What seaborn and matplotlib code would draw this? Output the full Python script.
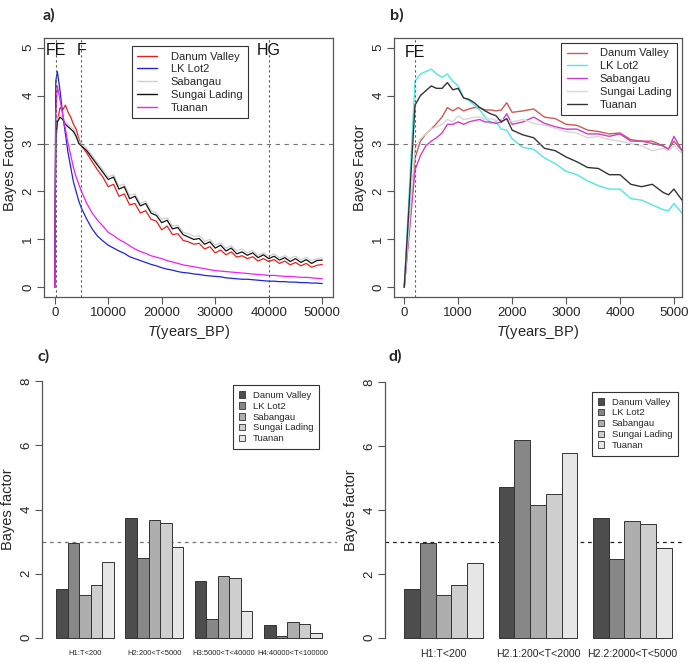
import numpy as np
import pandas as pd
import seaborn as sns
import matplotlib.pyplot as plt
from matplotlib.lines import Line2D
from matplotlib.patches import Patch

sns.set_style("ticks")
plt.rcParams['font.family'] = ['Liberation Sans', 'DejaVu Sans']
plt.rcParams['mathtext.fontset'] = 'custom'
plt.rcParams['mathtext.it'] = 'Liberation Sans:italic'
plt.rcParams['mathtext.rm'] = 'Liberation Sans'

sites = ["Danum Valley", "LK Lot2", "Sabangau", "Sungai Lading", "Tuanan"]

# ---- panel a: Bayes factor vs T, 0-50000 years
t_a = [0, 200, 500, 1000, 1500, 2000, 2500, 3000, 3500, 4000, 4500] + list(range(5000, 50001, 1000))
danum_a = [0, 3.0, 3.45, 3.75, 3.7, 3.8, 3.65, 3.55, 3.4, 3.3, 3.1,
           2.95, 2.8, 2.62, 2.45, 2.3, 2.1, 2.15, 1.9, 1.95, 1.72, 1.75, 1.55, 1.6, 1.42, 1.38,
           1.2, 1.28, 1.1, 1.12, 0.98, 0.95, 0.9, 0.92, 0.8, 0.85, 0.72, 0.78, 0.68, 0.74, 0.63,
           0.66, 0.6, 0.64, 0.55, 0.6, 0.54, 0.58, 0.5, 0.55, 0.47, 0.52, 0.45, 0.5, 0.42, 0.46, 0.48]
lklot2_a = [0, 4.3, 4.5, 4.1, 3.6, 3.2, 2.8, 2.5, 2.2, 2.0, 1.8,
            1.65, 1.42, 1.22, 1.07, 0.97, 0.88, 0.82, 0.76, 0.71, 0.64, 0.6, 0.56, 0.52, 0.48, 0.45,
            0.41, 0.38, 0.36, 0.33, 0.31, 0.3, 0.28, 0.27, 0.25, 0.24, 0.23, 0.22, 0.2, 0.19, 0.18,
            0.17, 0.17, 0.16, 0.15, 0.14, 0.13, 0.13, 0.12, 0.12, 0.11, 0.11, 0.1, 0.1, 0.09, 0.09, 0.08]
sabangau_a = [0, 3.25, 3.5, 3.6, 3.55, 3.45, 3.4, 3.35, 3.3, 3.2, 3.05,
              3.0, 2.9, 2.75, 2.6, 2.45, 2.3, 2.35, 2.12, 2.15, 1.92, 1.95, 1.75, 1.8, 1.6, 1.55,
              1.42, 1.45, 1.28, 1.3, 1.15, 1.12, 1.06, 1.08, 0.96, 1.0, 0.88, 0.93, 0.82, 0.87, 0.76,
              0.8, 0.72, 0.77, 0.67, 0.72, 0.65, 0.7, 0.62, 0.66, 0.6, 0.65, 0.57, 0.63, 0.56, 0.6, 0.62]
sungai_a = [0, 3.2, 3.45, 3.55, 3.5, 3.4, 3.35, 3.3, 3.25, 3.15, 3.0,
            2.95, 2.85, 2.7, 2.55, 2.4, 2.25, 2.3, 2.05, 2.1, 1.85, 1.9, 1.7, 1.75, 1.55, 1.5,
            1.35, 1.4, 1.22, 1.25, 1.1, 1.05, 1.0, 1.02, 0.9, 0.95, 0.82, 0.88, 0.76, 0.82, 0.7,
            0.74, 0.67, 0.72, 0.62, 0.68, 0.6, 0.65, 0.57, 0.62, 0.54, 0.6, 0.52, 0.58, 0.5, 0.56, 0.57]
tuanan_a = [0, 3.6, 4.2, 3.9, 3.6, 3.3, 3.0, 2.75, 2.5, 2.3, 2.15,
            2.0, 1.75, 1.55, 1.4, 1.28, 1.15, 1.08, 1.0, 0.94, 0.87, 0.8, 0.75, 0.71, 0.66, 0.63,
            0.6, 0.56, 0.53, 0.5, 0.47, 0.45, 0.43, 0.41, 0.39, 0.37, 0.35, 0.34, 0.33, 0.32, 0.31,
            0.3, 0.29, 0.28, 0.27, 0.26, 0.25, 0.25, 0.24, 0.23, 0.23, 0.22, 0.21, 0.21, 0.2, 0.19, 0.18]

# ---- panel b: zoom on 0-5000 years
t_b = [0, 200, 300, 400, 500, 600, 700, 800, 900, 1000, 1100, 1200, 1300, 1400, 1500, 1600,
       1700, 1800, 1900, 2000, 2200, 2400, 2600, 2800, 3000, 3200, 3400, 3600, 3800, 4000,
       4200, 4400, 4600, 4800, 4900, 5000, 5150]
danum_b = [0, 2.7, 3.05, 3.2, 3.3, 3.42, 3.55, 3.75, 3.68, 3.75, 3.68, 3.72, 3.75, 3.75, 3.7, 3.7,
           3.68, 3.7, 3.85, 3.65, 3.68, 3.72, 3.55, 3.52, 3.4, 3.38, 3.28, 3.25, 3.2, 3.22,
           3.08, 3.05, 3.05, 2.95, 2.88, 3.05, 2.85]
lklot2_b = [0, 4.3, 4.45, 4.5, 4.55, 4.45, 4.38, 4.45, 4.3, 4.2, 3.95, 3.9, 3.8, 3.7, 3.55, 3.42,
            3.45, 3.3, 3.28, 3.1, 2.92, 2.88, 2.7, 2.58, 2.42, 2.35, 2.22, 2.12, 2.05, 2.05,
            1.85, 1.82, 1.72, 1.62, 1.6, 1.75, 1.55]
sabangau_b = [0, 2.45, 2.75, 2.95, 3.05, 3.12, 3.22, 3.4, 3.4, 3.45, 3.4, 3.45, 3.48, 3.5, 3.45, 3.45,
              3.42, 3.45, 3.62, 3.4, 3.45, 3.55, 3.42, 3.35, 3.3, 3.3, 3.2, 3.2, 3.15, 3.2,
              3.05, 3.05, 3.0, 2.95, 2.88, 3.15, 2.85]
sungai_b = [0, 2.9, 3.1, 3.2, 3.3, 3.35, 3.4, 3.5, 3.45, 3.58, 3.5, 3.52, 3.55, 3.55, 3.5, 3.52,
            3.48, 3.5, 3.5, 3.45, 3.5, 3.42, 3.38, 3.32, 3.25, 3.22, 3.12, 3.15, 3.08, 3.05,
            3.0, 2.95, 2.85, 2.9, 2.85, 2.95, 2.8]
tuanan_b = [0, 3.8, 4.0, 4.1, 4.2, 4.15, 4.15, 4.27, 4.12, 4.15, 3.95, 3.92, 3.85, 3.75, 3.68, 3.62,
            3.58, 3.45, 3.52, 3.28, 3.18, 3.12, 2.9, 2.85, 2.72, 2.62, 2.5, 2.48, 2.35, 2.35,
            2.15, 2.1, 2.15, 1.98, 1.93, 2.05, 1.82]

# ---- panels c, d: Bayes factor per hypothesis
hyp_c = ["H1:T<200", "H2:200<T<5000", "H3:5000<T<40000", "H4:40000<T<100000"]
bf_c = {
    "Danum Valley":  [1.52, 3.75, 1.77, 0.39],
    "LK Lot2":       [2.97, 2.48, 0.60, 0.05],
    "Sabangau":      [1.33, 3.66, 1.94, 0.49],
    "Sungai Lading": [1.66, 3.57, 1.87, 0.42],
    "Tuanan":        [2.35, 2.82, 0.83, 0.14],
}
hyp_d = ["H1:T<200", "H2.1:200<T<2000", "H2.2:2000<T<5000"]
bf_d = {
    "Danum Valley":  [1.52, 4.73, 3.75],
    "LK Lot2":       [2.97, 6.20, 2.48],
    "Sabangau":      [1.33, 4.16, 3.66],
    "Sungai Lading": [1.66, 4.49, 3.57],
    "Tuanan":        [2.35, 5.78, 2.82],
}

pal_a = dict(zip(sites, ["#e8201c", "#2222d8", "#d0d0d0", "#111111", "#f020f0"]))
pal_b = dict(zip(sites, ["#cd5a55", "#4fe6e6", "#d23cc8", "#d6d6d6", "#333333"]))
grays = dict(zip(sites, ["#4D4D4D", "#878787", "#AEAEAE", "#CECECE", "#E6E6E6"]))

W, H = 689, 662
fig = plt.figure(figsize=(W / 100, H / 100), dpi=100)


def px_axes(l, t, r, b):
    return fig.add_axes([l / W, 1 - b / H, (r - l) / W, (b - t) / H])


def long_df(t, series):
    return pd.DataFrame({"T": np.tile(t, len(series)),
                         "BF": np.concatenate(series),
                         "site": np.repeat(sites, len(t))})


axc = "#555555"


def style_line_ax(ax):
    for s in ax.spines.values():
        s.set_color(axc)
        s.set_linewidth(0.9)
    ax.tick_params(direction="out", length=5, width=0.8, color=axc, labelsize=9.5, pad=2)
    ax.tick_params(axis="y", labelrotation=90)
    for lab in ax.get_yticklabels():
        lab.set_va("center")
    ax.set_ylabel("Bayes Factor", fontsize=10.5, labelpad=4)
    ax.set_xlabel(r"$T$(years_BP)", fontsize=10.5, labelpad=3)


def line_legend(ax, pal, **kw):
    handles = [Line2D([], [], color=pal[s], lw=1) for s in sites]
    leg = ax.legend(handles, sites, fontsize=8, frameon=True, fancybox=False,
                    edgecolor="#333333", framealpha=1, handlelength=1.8, handletextpad=1.2,
                    labelspacing=0.25, borderpad=0.5, borderaxespad=0, **kw)
    leg.get_frame().set_linewidth(0.8)


# panel a
ax = px_axes(44, 38, 333, 297)
sns.lineplot(data=long_df(t_a, [danum_a, lklot2_a, sabangau_a, sungai_a, tuanan_a]),
             x="T", y="BF", hue="site", hue_order=sites, palette=pal_a,
             estimator=None, lw=0.9, legend=False, ax=ax)
ax.set_xlim(-2000, 52000)
ax.set_ylim(-0.2, 5.2)
ax.set_xticks([0, 10000, 20000, 30000, 40000, 50000])
ax.set_yticks([0, 1, 2, 3, 4, 5])
ax.axhline(3, color="#777777", lw=0.8, ls=(0, (4, 4)))
for xv, lab in [(200, "FE"), (5000, "F"), (40000, "HG")]:
    ax.axvline(xv, color="#555555", lw=0.8, ls=(0, (2, 2.5)))
    ax.text(xv, 4.85, lab, ha="center", va="baseline", fontsize=11.5, color="#111111")
style_line_ax(ax)
line_legend(ax, pal_a, loc="upper left", bbox_to_anchor=(0.304, 0.969))

# panel b
ax = px_axes(394, 38, 682, 297)
sns.lineplot(data=long_df(t_b, [danum_b, lklot2_b, sabangau_b, sungai_b, tuanan_b]),
             x="T", y="BF", hue="site", hue_order=sites, palette=pal_b,
             estimator=None, lw=1.0, legend=False, ax=ax)
ax.set_xlim(-190, 5150)
ax.set_ylim(-0.2, 5.2)
ax.set_xticks([0, 1000, 2000, 3000, 4000, 5000])
ax.set_yticks([0, 1, 2, 3, 4, 5])
ax.axhline(3, color="#777777", lw=0.8, ls=(0, (4, 4)))
ax.axvline(200, color="#555555", lw=0.8, ls=(0, (2, 2.5)))
ax.text(200, 4.8, "FE", ha="center", va="baseline", fontsize=11.5, color="#111111")
style_line_ax(ax)
line_legend(ax, pal_b, loc="upper right", bbox_to_anchor=(0.983, 0.981))


def bar_panel(box, hyps, bf, xlim, xfs, xpad, legend_anchor, hcolor):
    ax = px_axes(*box)
    df = pd.DataFrame({"H": np.tile(hyps, len(sites)),
                       "BF": np.concatenate([bf[s] for s in sites]),
                       "site": np.repeat(sites, len(hyps))})
    sns.barplot(data=df, x="H", y="BF", hue="site", hue_order=sites, order=hyps,
                palette=grays, width=5 / 6, edgecolor="#333333", linewidth=0.7,
                errorbar=None, legend=False, ax=ax)
    ax.set_xlim(*xlim)
    ax.set_ylim(-0.32, 8.32)
    ax.set_yticks([0, 2, 4, 6, 8])
    ax.axhline(3, color=hcolor, lw=0.9, ls=(0, (3, 3)), zorder=0.5)
    for s in ["top", "right", "bottom"]:
        ax.spines[s].set_visible(False)
    ax.spines["left"].set_bounds(0, 8)
    ax.spines["left"].set_color(axc)
    ax.spines["left"].set_linewidth(0.9)
    ax.tick_params(axis="y", direction="out", length=5, width=0.8, color=axc,
                   labelsize=9.5, labelrotation=90, pad=2)
    for lab in ax.get_yticklabels():
        lab.set_va("center")
    ax.tick_params(axis="x", length=0, labelsize=xfs, pad=xpad)
    ax.set_xlabel("")
    ax.set_ylabel("Bayes factor", fontsize=10.5, labelpad=4)
    handles = [Patch(facecolor=grays[s], edgecolor="#333333", lw=0.6) for s in sites]
    leg = ax.legend(handles, sites, loc="upper right", bbox_to_anchor=legend_anchor,
                    fontsize=6.8, frameon=True, fancybox=False, edgecolor="#333333",
                    framealpha=1, handlelength=0.7, handleheight=0.7, handletextpad=0.8,
                    labelspacing=0.2, borderpad=0.6, borderaxespad=0)
    leg.get_frame().set_linewidth(0.8)
    return ax


bar_panel((42, 371, 337, 648), hyp_c, bf_c, (-0.62, 3.636), 5.5, 1.5, (0.939, 0.949), "#777777")
bar_panel((385, 372, 685, 648), hyp_d, bf_d, (-0.618, 2.557), 7.6, 0.5, (0.977, 0.928), "#222222")

for x, y, lab in [(43, 15, "a)"), (390, 15, "b)"), (38, 356, "c)"), (388, 356, "d)")]:
    fig.text(x / W, 1 - y / H, lab, fontsize=11.5, fontweight="bold", family="Lato",
             va="center", ha="left")

fig.savefig("out.png", dpi=100)
